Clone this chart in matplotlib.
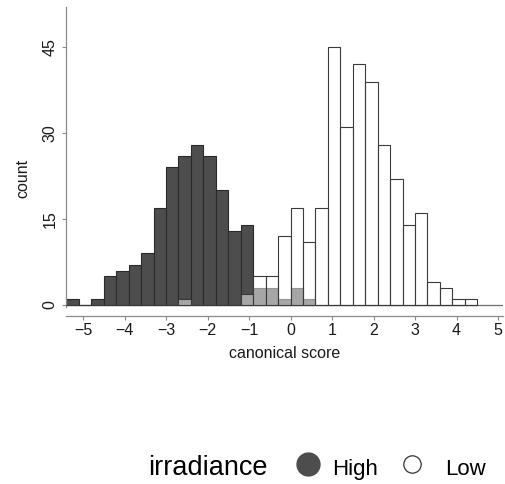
import numpy as np
import matplotlib

matplotlib.use("Agg")
import matplotlib.pyplot as plt
from matplotlib.lines import Line2D

plt.rcParams["font.family"] = ["Liberation Sans", "DejaVu Sans"]

# Histogram of canonical scores, split by irradiance group (shared 0.3-wide bins)
bin_start = -5.4
bin_width = 0.3
high_counts = [1, 0, 1, 5, 6, 7, 9, 17, 24, 26, 28, 26, 20, 13, 14, 3, 3,
               1, 3, 1, 0, 0, 0, 0, 0, 0, 0, 0, 0, 0, 0, 0, 0]
low_counts = [0, 0, 0, 0, 0, 0, 0, 0, 0, 1, 0, 0, 0, 0, 2, 5, 5,
              12, 17, 11, 17, 45, 31, 42, 39, 28, 22, 14, 16, 4, 3, 1, 1]
x_ticks = [-5, -4, -3, -2, -1, 0, 1, 2, 3, 4, 5]
y_ticks = [0, 15, 30, 45]
groups = ["High", "Low"]

HIGH_C = "#4d4d4d"
EDGE_C = "#2a2a2a"
AXIS_C = "#8a8a8a"
TEXT_C = "#1a1a1a"

lefts = bin_start + bin_width * np.arange(len(high_counts))

fig = plt.figure(figsize=(5.05, 4.84), dpi=100)
ax = fig.add_axes([0.1307, 0.3471, 0.8653, 0.6384])

ax.axhline(0, color="#6e6e6e", lw=0.9, zorder=1)
ax.bar(lefts, high_counts, width=bin_width, align="edge",
       color=HIGH_C, edgecolor=EDGE_C, linewidth=0.8, zorder=2)
ax.bar(lefts, low_counts, width=bin_width, align="edge",
       facecolor=(1, 1, 1, 0.5), edgecolor="#3a3a3a", linewidth=0.8, zorder=3)

ax.set_xlim(-5.41, 5.12)
ax.set_ylim(-1.92, 52.0)

for side in ("top", "right"):
    ax.spines[side].set_visible(False)
ax.spines["left"].set_bounds(-0.3, 52.0)
ax.spines["left"].set_color(AXIS_C)
ax.spines["bottom"].set_color(AXIS_C)
ax.spines["left"].set_linewidth(0.9)
ax.spines["bottom"].set_linewidth(0.9)

ax.set_xticks(x_ticks)
ax.set_yticks(y_ticks)
ax.set_yticklabels([str(v) for v in y_ticks], rotation=90, va="center")
ax.tick_params(axis="both", length=3, width=0.8, color=AXIS_C,
               labelsize=11.5, labelcolor=TEXT_C)
ax.tick_params(axis="x", pad=2)
ax.tick_params(axis="y", pad=3)

ax.set_xlabel("canonical score", fontsize=11.5, color=TEXT_C, labelpad=6)
fig.text(23 / 505, 1 - 178 / 484, "count", rotation=90, fontsize=11.5,
         color=TEXT_C, ha="center", va="center")

# legend row under the plot
text_base = 1 - 475 / 484
dot_y = 1 - 463.5 / 484
fig.text(148 / 505, text_base, "irradiance", fontsize=19.5, color="black",
         ha="left", va="baseline")
fig.add_artist(Line2D([308 / 505], [dot_y], transform=fig.transFigure,
                      marker="o", markersize=16.5, linestyle="none",
                      markerfacecolor=HIGH_C, markeredgecolor=HIGH_C))
fig.text(332 / 505, text_base, groups[0], fontsize=16, color="black",
         ha="left", va="baseline")
fig.add_artist(Line2D([412 / 505], [dot_y], transform=fig.transFigure,
                      marker="o", markersize=12.5, linestyle="none",
                      markerfacecolor="white", markeredgecolor="#333333",
                      markeredgewidth=0.9))
fig.text(445 / 505, text_base, groups[1], fontsize=16, color="black",
         ha="left", va="baseline")

fig.savefig("out.png", dpi=100)
